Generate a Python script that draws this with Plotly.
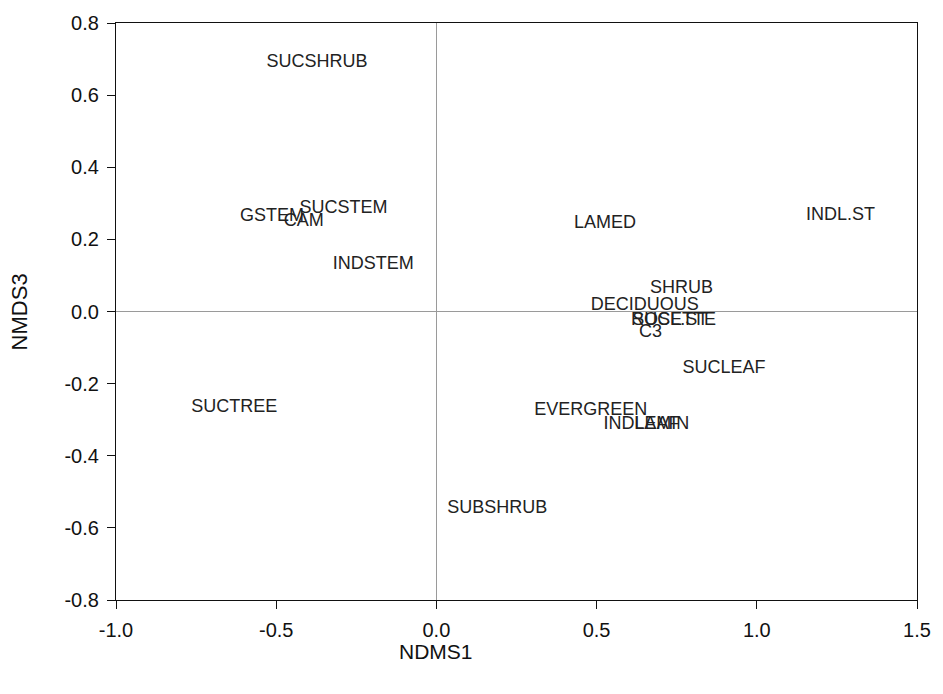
import plotly.graph_objects as go

# NMDS scores for each trait (axis 1 vs axis 3)
traits = ["SUCSHRUB", "GSTEM", "SUCSTEM", "CAM", "INDSTEM", "SUCTREE", "SUBSHRUB",
          "LAMED", "INDL.ST", "SHRUB", "DECIDUOUS", "ROSETTE", "SUCL.ST", "C3",
          "SUCLEAF", "EVERGREEN", "INDLEAF", "LAMIN"]
nmds1 = [-0.373, -0.513, -0.290, -0.414, -0.197, -0.631, 0.190,
         0.526, 1.261, 0.765, 0.650, 0.740, 0.730, 0.668,
         0.898, 0.482, 0.640, 0.703]
nmds3 = [0.690, 0.263, 0.285, 0.249, 0.131, -0.266, -0.547,
         0.244, 0.266, 0.065, 0.018, -0.024, -0.024, -0.057,
         -0.158, -0.274, -0.313, -0.313]

x_ticks = [-1.0, -0.5, 0.0, 0.5, 1.0, 1.5]
y_ticks = [-0.8, -0.6, -0.4, -0.2, 0.0, 0.2, 0.4, 0.6, 0.8]
x_title = "NDMS1"
y_title = "NMDS3"

font_family = "Liberation Sans, Arial, sans-serif"
ink = "#111111"


def tick_labels(vals):
    # plain hyphen for negatives
    return [f"{v:.1f}" for v in vals]


fig = go.Figure(go.Scatter(
    x=nmds1, y=nmds3, mode="text", text=traits,
    textposition="middle center",
    textfont=dict(family=font_family, size=18, color="#222222"),
    hoverinfo="text", showlegend=False,
))

axis_common = dict(
    showgrid=False, showline=True, linecolor=ink, linewidth=1.3,
    mirror=True, ticks="outside", ticklen=8, tickcolor=ink, tickwidth=1.3,
    zeroline=True, zerolinecolor="#9a9a9a", zerolinewidth=1,
    tickfont=dict(family=font_family, size=20, color=ink),
    tickmode="array", ticklabelstandoff=4,
)

fig.update_xaxes(range=[-1.0, 1.5], tickvals=x_ticks, ticktext=tick_labels(x_ticks),
                 **axis_common)
fig.update_yaxes(range=[-0.8, 0.8], tickvals=y_ticks, ticktext=tick_labels(y_ticks),
                 **axis_common)

# axis titles, centred on the zero lines
fig.add_annotation(text=x_title, x=0.0, xref="x", y=-0.09, yref="paper",
                   xanchor="center", yanchor="middle", showarrow=False,
                   font=dict(family=font_family, size=21, color=ink))
fig.add_annotation(text=y_title, x=-0.12, xref="paper", y=0.0, yref="y",
                   xanchor="center", yanchor="middle", showarrow=False, textangle=-90,
                   font=dict(family=font_family, size=22, color=ink))

fig.update_layout(
    width=943, height=694,
    margin=dict(l=116, r=17, t=17, b=94),
    plot_bgcolor="white", paper_bgcolor="white",
)

fig.write_html("out.html")
